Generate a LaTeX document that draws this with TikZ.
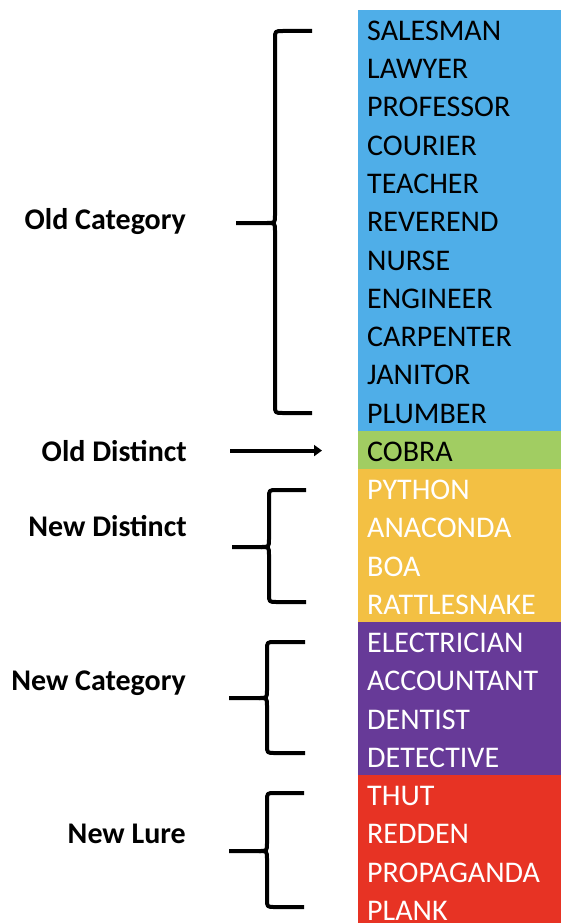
\documentclass[tikz,border=0pt]{standalone}
\usepackage{fontspec}
\setmainfont{Carlito}
\usepackage{tikz}
\usetikzlibrary{arrows.meta,positioning}
\definecolor{catblue}{HTML}{4FAEE8}
\definecolor{distgreen}{HTML}{A1CD62}
\definecolor{distyellow}{HTML}{F3C043}
\definecolor{catpurple}{HTML}{673A98}
\definecolor{lurered}{HTML}{E73324}
\tikzset{
  word/.style={anchor=base west,inner sep=0pt,font=\fontsize{30}{36}\selectfont},
  grplabel/.style={anchor=base east,inner sep=0pt,font=\fontsize{30}{36}\selectfont\bfseries},
  bracket/.style={line width=4pt,line join=round},
  pointer/.style={-{Triangle[length=8pt,width=11pt]},line width=4pt}
}
% #1 spine x, #2 tip x, #3 arm end x, #4 top, #5 middle, #6 bottom
\newcommand{\grpbrace}[6]{
  \draw[bracket] (#3,#4) -- ({#1+8},#4) .. controls (#1,#4) .. (#1,{#4+8}) -- (#1,{#5-8})
    .. controls (#1,#5) .. ({#1-8},#5) -- (#2,#5);
  \draw[bracket] (#3,#6) -- ({#1+8},#6) .. controls (#1,#6) .. (#1,{#6-8}) -- (#1,{#5+8})
    .. controls (#1,#5) .. ({#1-8},#5);
}

\begin{document}
\begin{tikzpicture}[x=1pt,y=-1pt]
\useasboundingbox (0,0) rectangle (561,923);
% coloured column
\foreach \c/\a/\b in {catblue/0/11,distgreen/11/12,distyellow/12/16,catpurple/16/20,lurered/20/24}
  \fill[\c] (358,{10+38.25*\a}) rectangle (561,{10+38.25*\b});
\foreach \w/\c [count=\i] in {SALESMAN/black,LAWYER/black,PROFESSOR/black,COURIER/black,
  TEACHER/black,REVEREND/black,NURSE/black,ENGINEER/black,CARPENTER/black,JANITOR/black,
  PLUMBER/black,COBRA/black,PYTHON/white,ANACONDA/white,BOA/white,RATTLESNAKE/white,
  ELECTRICIAN/white,ACCOUNTANT/white,DENTIST/white,DETECTIVE/white,
  THUT/white,REDDEN/white,PROPAGANDA/white,PLANK/white}
  \node[word,text=\c] (w\i) at (367,{10+38.25*(\i-1)+30.5}) {\w};
% group labels
\node[grplabel] (oldcat) at (186,229) {Old Category};
\node[grplabel] (olddist) at (187,461) {Old Distinct};
\node[grplabel] (newdist) at (187,536) {New Distinct};
\node[grplabel] (newcat) at (186,690) {New Category};
\node[grplabel] (newlure) at (186,843) {New Lure};
% braces and arrow
\grpbrace{275}{236}{312}{31}{223}{413}
\grpbrace{269}{232}{306}{490}{547}{602}
\grpbrace{267}{229}{305}{642}{698}{753}
\grpbrace{267}{229}{304}{793}{851}{907}
\draw[pointer] ([xshift=43pt]olddist.east) -- ([xshift=-45pt]olddist.east -| w12.west);
\end{tikzpicture}
\end{document}
